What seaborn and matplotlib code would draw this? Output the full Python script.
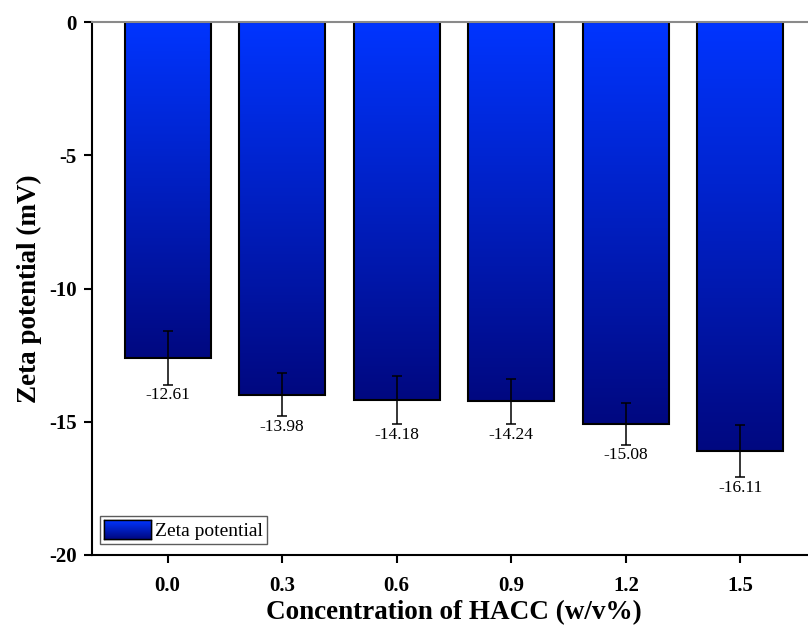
import numpy as np
import pandas as pd
import matplotlib
matplotlib.use("Agg")
import matplotlib.pyplot as plt
import seaborn as sns
from matplotlib.colors import LinearSegmentedColormap
from matplotlib.patches import Patch

concentrations = ["0.0", "0.3", "0.6", "0.9", "1.2", "1.5"]
zeta = [-12.61, -13.98, -14.18, -14.24, -15.08, -16.11]
errors = [1.00, 0.80, 0.90, 0.85, 0.78, 0.97]
yticks = [0, -5, -10, -15, -20]
ytick_labels = ["0", "-5", "-10", "-15", "-20"]

sns.set_theme(style="ticks")
plt.rcParams["font.family"] = ["Liberation Serif", "DejaVu Serif"]
plt.rcParams["text.color"] = "black"
plt.rcParams["axes.labelcolor"] = "black"
plt.rcParams["xtick.color"] = "black"
plt.rcParams["ytick.color"] = "black"
plt.rcParams["xtick.labelcolor"] = "black"
plt.rcParams["ytick.labelcolor"] = "black"

fig = plt.figure(figsize=(8.08, 6.31), dpi=100)
ax = fig.add_axes([92 / 808, 76 / 631, 724 / 808, 533 / 631])

df = pd.DataFrame({"conc": concentrations, "zeta": zeta})
sns.barplot(data=df, x="conc", y="zeta", ax=ax, width=0.75, color="#0022cc",
            saturation=1, edgecolor="black", linewidth=1.5, errorbar=None)

cmap = LinearSegmentedColormap.from_list("g", ["#0035ff", "#000880"])
grad = np.linspace(0, 1, 256).reshape(-1, 1)
for p in list(ax.patches):
    x0, w, y0, h = p.get_x(), p.get_width(), p.get_y(), p.get_height()
    im = ax.imshow(grad, cmap=cmap, aspect="auto", origin="upper",
                   extent=(x0, x0 + w, y0 + h, y0), zorder=1.5)
    im.set_clip_path(p)
    p.set_facecolor("none")
    p.set_zorder(2)

ax.errorbar(x=np.arange(len(zeta)), y=zeta, yerr=errors, fmt="none",
            ecolor="black", elinewidth=1.1, capsize=3.8, capthick=1.1, zorder=3)

for i, (v, e) in enumerate(zip(zeta, errors)):
    ax.annotate(f"{v:.2f}", xy=(i, v - e), xytext=(0, -2), textcoords="offset points",
                ha="center", va="top", fontsize=12.5, color="black")

ax.set_xlim(-0.66, 5.66)
ax.set_ylim(-20, 0)
ax.set_yticks(yticks)
ax.set_yticklabels(ytick_labels)
ax.tick_params(axis="both", direction="out", length=6, width=1.5, color="black",
               labelcolor="black", labelsize=15)
ax.tick_params(axis="x", pad=9)
ax.tick_params(axis="y", pad=5)
for lab in ax.get_xticklabels() + ax.get_yticklabels():
    lab.set_fontweight("bold")

ax.set_xlabel("Concentration of HACC (w/v%)", fontsize=19.5, fontweight="bold",
              labelpad=3, color="black")
ax.set_ylabel("Zeta potential (mV)", fontsize=19.5, fontweight="bold",
              labelpad=5, color="black")

for s in ["left", "bottom"]:
    ax.spines[s].set_color("black")
    ax.spines[s].set_linewidth(1.5)
ax.spines["top"].set_color("#8a8a8a")
ax.spines["top"].set_linewidth(1.5)
ax.spines["right"].set_visible(False)

leg = ax.legend(handles=[Patch(facecolor="#0022cc", edgecolor="black", label="Zeta potential")],
                loc="lower left", bbox_to_anchor=(8 / 724, 11 / 533), borderaxespad=0,
                frameon=True, fancybox=False, edgecolor="#333333", fontsize=14,
                handlelength=2.4, handleheight=1.1, handletextpad=0.25, borderpad=0.2)
leg.get_frame().set_linewidth(1.0)
for t in leg.get_texts():
    t.set_color("black")

fig.canvas.draw()
hb = leg.legend_handles[0].get_window_extent().transformed(fig.transFigure.inverted())
lax = fig.add_axes([hb.x0, hb.y0, hb.width, hb.height])
lax.imshow(grad, cmap=cmap, aspect="auto", origin="upper")
lax.set_xticks([])
lax.set_yticks([])
for s in lax.spines.values():
    s.set_color("black")
    s.set_linewidth(1.0)

fig.savefig("out.png", dpi=100)
